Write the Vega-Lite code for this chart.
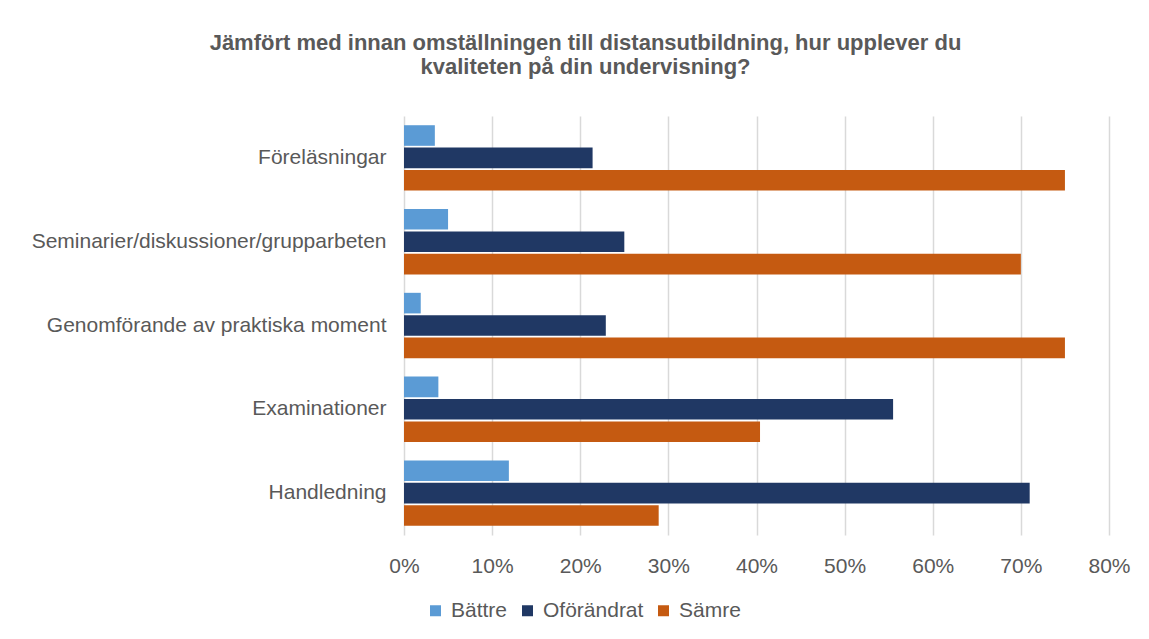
{
  "$schema": "https://vega.github.io/schema/vega-lite/v6.json",
  "autosize": {"type": "none"},
  "width": 705,
  "height": 419,
  "padding": {"left": 404, "top": 116, "right": 40, "bottom": 104},
  "background": "white",
  "title": {
    "text": ["Jämfört med innan omställningen till distansutbildning, hur upplever du", "kvaliteten på din undervisning?"],
    "anchor": "middle",
    "frame": "group",
    "dx": -171,
    "offset": 37,
    "font": "Liberation Sans",
    "fontSize": 22,
    "fontWeight": "bold",
    "color": "#595959",
    "lineHeight": 24
  },
  "data": {
    "values": [
      {"Kategori": "Föreläsningar", "Serie": "Bättre", "Andel": 0.035},
      {"Kategori": "Föreläsningar", "Serie": "Oförändrat", "Andel": 0.214},
      {"Kategori": "Föreläsningar", "Serie": "Sämre", "Andel": 0.75},
      {"Kategori": "Seminarier/diskussioner/grupparbeten", "Serie": "Bättre", "Andel": 0.05},
      {"Kategori": "Seminarier/diskussioner/grupparbeten", "Serie": "Oförändrat", "Andel": 0.25},
      {"Kategori": "Seminarier/diskussioner/grupparbeten", "Serie": "Sämre", "Andel": 0.70},
      {"Kategori": "Genomförande av praktiska moment", "Serie": "Bättre", "Andel": 0.019},
      {"Kategori": "Genomförande av praktiska moment", "Serie": "Oförändrat", "Andel": 0.229},
      {"Kategori": "Genomförande av praktiska moment", "Serie": "Sämre", "Andel": 0.75},
      {"Kategori": "Examinationer", "Serie": "Bättre", "Andel": 0.039},
      {"Kategori": "Examinationer", "Serie": "Oförändrat", "Andel": 0.555},
      {"Kategori": "Examinationer", "Serie": "Sämre", "Andel": 0.404},
      {"Kategori": "Handledning", "Serie": "Bättre", "Andel": 0.119},
      {"Kategori": "Handledning", "Serie": "Oförändrat", "Andel": 0.71},
      {"Kategori": "Handledning", "Serie": "Sämre", "Andel": 0.289}
    ]
  },
  "mark": {"type": "bar"},
  "encoding": {
    "y": {
      "field": "Kategori",
      "type": "nominal",
      "sort": ["Föreläsningar", "Seminarier/diskussioner/grupparbeten", "Genomförande av praktiska moment", "Examinationer", "Handledning"],
      "scale": {"paddingInner": 0.22, "paddingOuter": 0.11},
      "axis": {
        "title": null,
        "ticks": false,
        "domain": false,
        "labelPadding": 18,
        "labelFont": "Liberation Sans",
        "labelFontSize": 21,
        "labelColor": "#595959",
        "labelLimit": 500
      }
    },
    "yOffset": {
      "field": "Serie",
      "type": "nominal",
      "sort": ["Bättre", "Oförändrat", "Sämre"],
      "scale": {"paddingInner": 0.08, "paddingOuter": 0}
    },
    "x": {
      "field": "Andel",
      "type": "quantitative",
      "scale": {"domain": [0, 0.8], "nice": false},
      "axis": {
        "title": null,
        "format": ".0%",
        "values": [0, 0.1, 0.2, 0.3, 0.4, 0.5, 0.6, 0.7, 0.8],
        "ticks": false,
        "domain": false,
        "grid": true,
        "gridColor": "#D9D9D9",
        "gridWidth": 1.5,
        "labelFlush": false,
        "labelPadding": 20,
        "labelFont": "Liberation Sans",
        "labelFontSize": 21,
        "labelColor": "#595959"
      }
    },
    "color": {
      "field": "Serie",
      "type": "nominal",
      "sort": ["Bättre", "Oförändrat", "Sämre"],
      "scale": {"domain": ["Bättre", "Oförändrat", "Sämre"], "range": ["#5B9BD5", "#203864", "#C55A11"]},
      "legend": {
        "title": null,
        "orient": "none",
        "direction": "horizontal",
        "legendX": 21,
        "legendY": 484,
        "symbolType": "square",
        "symbolSize": 121,
        "symbolStrokeWidth": 0,
        "labelFont": "Liberation Sans",
        "labelFontSize": 21,
        "labelColor": "#595959",
        "labelOffset": 5,
        "columnPadding": 9
      }
    }
  },
  "config": {
    "view": {"stroke": null}
  }
}
